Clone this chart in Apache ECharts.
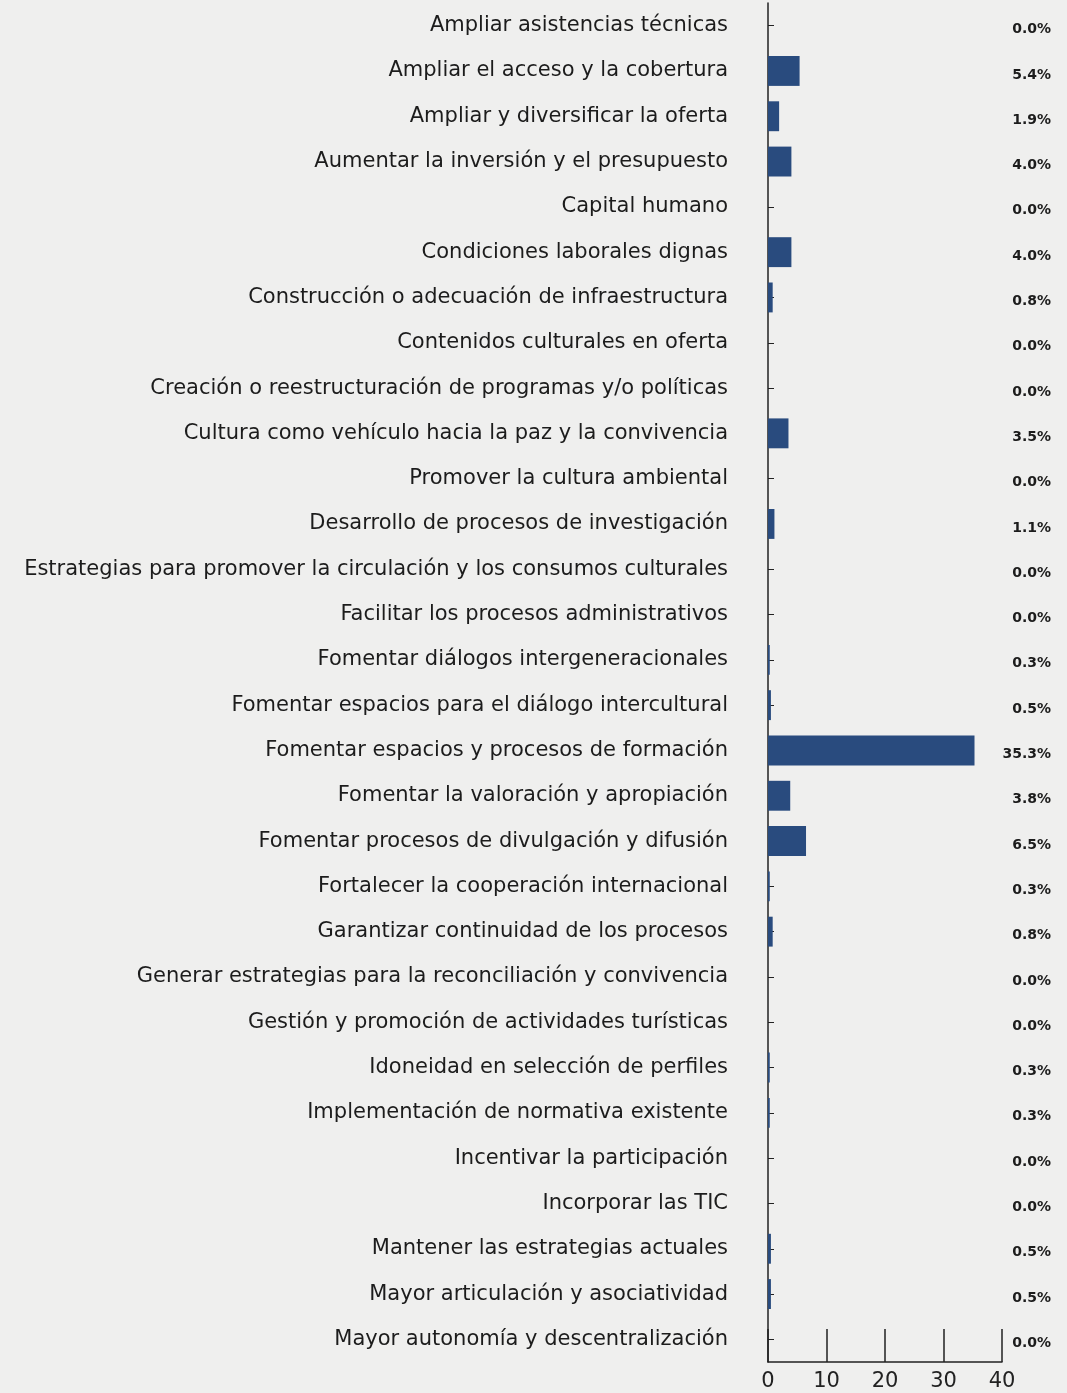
<!DOCTYPE html>
<html>
<head>
<meta charset="utf-8">
<script src="https://cdn.jsdelivr.net/npm/echarts@6/dist/echarts.min.js"></script>
<style>
html, body { margin: 0; padding: 0; background: #efefee; }
#chart { width: 1067px; height: 1393px; }
</style>
</head>
<body>
<div id="chart"></div>
<script>
// categorías (de arriba hacia abajo)
var categories = [
    "Ampliar asistencias técnicas",
    "Ampliar el acceso y la cobertura",
    "Ampliar y diversificar la oferta",
    "Aumentar la inversión y el presupuesto",
    "Capital humano",
    "Condiciones laborales dignas",
    "Construcción o adecuación de infraestructura",
    "Contenidos culturales en oferta",
    "Creación o reestructuración de programas y/o políticas",
    "Cultura como vehículo hacia la paz y la convivencia",
    "Promover la cultura ambiental",
    "Desarrollo de procesos de investigación",
    "Estrategias para promover la circulación y los consumos culturales",
    "Facilitar los procesos administrativos",
    "Fomentar diálogos intergeneracionales",
    "Fomentar espacios para el diálogo intercultural",
    "Fomentar espacios y procesos de formación",
    "Fomentar la valoración y apropiación",
    "Fomentar procesos de divulgación y difusión",
    "Fortalecer la cooperación internacional",
    "Garantizar continuidad de los procesos",
    "Generar estrategias para la reconciliación y convivencia",
    "Gestión y promoción de actividades turísticas",
    "Idoneidad en selección de perfiles",
    "Implementación de normativa existente",
    "Incentivar la participación",
    "Incorporar las TIC",
    "Mantener las estrategias actuales",
    "Mayor articulación y asociatividad",
    "Mayor autonomía y descentralización"
];

// porcentaje por categoría
var values = [
    0.0, 5.4, 1.9, 4.0, 0.0, 4.0, 0.8, 0.0, 0.0, 3.5,
    0.0, 1.1, 0.0, 0.0, 0.3, 0.5, 35.3, 3.8, 6.5, 0.3,
    0.8, 0.0, 0.0, 0.3, 0.3, 0.0, 0.0, 0.5, 0.5, 0.0
];

var xTicks = [0, 10, 20, 30, 40];

var valueLabels = values.map(function (v) { return v.toFixed(1) + "%"; });

var myChart = echarts.init(document.getElementById("chart"));

var option = {
    backgroundColor: "#efefee",
    animation: false,
    grid: {
        left: 768,
        right: 65,
        top: 3,
        bottom: 31,
        containLabel: false
    },
    xAxis: {
        type: "value",
        min: xTicks[0],
        max: xTicks[xTicks.length - 1],
        interval: 10,
        splitLine: { show: false },
        axisLine: { show: true, lineStyle: { color: "#222", width: 1.5 } },
        axisTick: { show: true, inside: true, length: 33, lineStyle: { color: "#222", width: 1.5 } },
        axisLabel: {
            color: "#222",
            fontSize: 21,
            fontFamily: "DejaVu Sans",
            margin: 9
        }
    },
    yAxis: [
        {
            type: "category",
            inverse: true,
            data: categories,
            axisLine: { show: true, lineStyle: { color: "#222", width: 1.5 } },
            axisTick: { show: true, inside: true, length: 6, alignWithLabel: true, lineStyle: { color: "#222" } },
            axisLabel: {
                color: "#1c1c1c",
                fontSize: 21,
                fontFamily: "DejaVu Sans",
                margin: 40
            }
        },
        {
            type: "category",
            inverse: true,
            position: "right",
            data: valueLabels,
            axisLine: { show: false },
            axisTick: { show: false },
            axisLabel: {
                color: "#1c1c1c",
                fontSize: 14,
                fontWeight: "bold",
                fontFamily: "DejaVu Sans",
                align: "right",
                verticalAlign: "top",
                lineHeight: 8,
                margin: 49
            }
        }
    ],
    series: [
        {
            name: "Porcentaje",
            type: "bar",
            data: values,
            barCategoryGap: "34%",
            itemStyle: { color: "#294b7e" }
        }
    ]
};

myChart.setOption(option);
</script>
</body>
</html>
